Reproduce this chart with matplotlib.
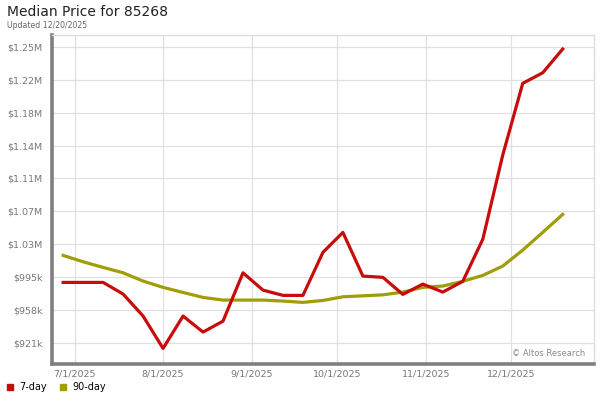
import numpy as np
import pandas as pd
import matplotlib
matplotlib.use('Agg')
import matplotlib.pyplot as plt
from matplotlib.lines import Line2D

# -----------------------------
# data (weekly)
dates = pd.date_range('2025-06-27', periods=26, freq='7D')

price_7day = [989000, 989000, 989000, 975900, 951100, 914700, 951100, 933100,
              945400, 999800, 980300, 974400, 974400, 1022800, 1045300, 996100,
              994700, 975500, 987100, 978100, 990200, 1037500, 1132400, 1213100,
              1225000, 1251700]

price_90day = [1019400, 1012200, 1005900, 999800, 990500, 983400, 977700, 972100,
               969100, 969100, 969100, 968000, 966500, 968700, 972800, 973900,
               975000, 978100, 983400, 984900, 990200, 996900, 1007400, 1025400,
               1045300, 1065600]

y_ticks = [921000, 958000, 995000, 1032000, 1069000, 1106000, 1143000, 1180000, 1217000, 1254000]
y_labels = ['$921k', '$958k', '$995k', '$1.03M', '$1.07M', '$1.11M', '$1.14M', '$1.18M', '$1.22M', '$1.25M']

x_ticks = pd.to_datetime(['2025-07-01', '2025-08-01', '2025-09-01', '2025-10-01', '2025-11-01', '2025-12-01'])
x_labels = ['7/1/2025', '8/1/2025', '9/1/2025', '10/1/2025', '11/1/2025', '12/1/2025']

red = '#c80c0c'
olive = '#a09e08'

# -----------------------------
fig = plt.figure(figsize=(6, 4), dpi=100)
ax = fig.add_axes([0.0867, 0.089, 0.903, 0.8235])

ax.plot(dates, price_7day, color=red, lw=2.3, zorder=3)
ax.plot(dates, price_90day, color=olive, lw=2.3, zorder=2)

ax.set_xlim(dates[0] - pd.Timedelta(days=3.9), dates[-1] + pd.Timedelta(days=10.9))
ax.set_ylim(896700, 1267500)

ax.set_yticks(y_ticks)
ax.set_yticklabels(y_labels)
ax.set_xticks(x_ticks)
ax.set_xticklabels(x_labels)
ax.tick_params(axis='both', length=0, labelsize=6.8, labelcolor='#777777')
ax.tick_params(axis='y', pad=7)
ax.tick_params(axis='x', pad=4)

ax.grid(True, color='#e0e0e0', lw=0.9)
ax.set_axisbelow(True)

for s in ['top', 'right']:
    ax.spines[s].set_color('#dddddd')
    ax.spines[s].set_linewidth(1)
for s in ['left', 'bottom']:
    ax.spines[s].set_color('#808080')
    ax.spines[s].set_linewidth(2.6)

ax.text(0.985, 0.018, '\u00a9 Altos Research', transform=ax.transAxes,
        ha='right', va='bottom', fontsize=6, color='#888888')

fig.text(0.012, 0.988, 'Median Price for 85268', ha='left', va='top', fontsize=10, color='#222222')
fig.text(0.012, 0.948, 'Updated 12/20/2025', ha='left', va='top', fontsize=5.6, color='#666666')

handles = [Line2D([], [], color=red, marker='s', ls='none', markersize=4.5),
           Line2D([], [], color=olive, marker='s', ls='none', markersize=4.5)]
fig.legend(handles, ['7-day', '90-day'], loc='lower left', bbox_to_anchor=(-0.005, -0.002),
           ncol=2, frameon=False, fontsize=7, handlelength=0.8, handletextpad=0.6,
           columnspacing=1.2)

fig.savefig('out.png', dpi=100)
